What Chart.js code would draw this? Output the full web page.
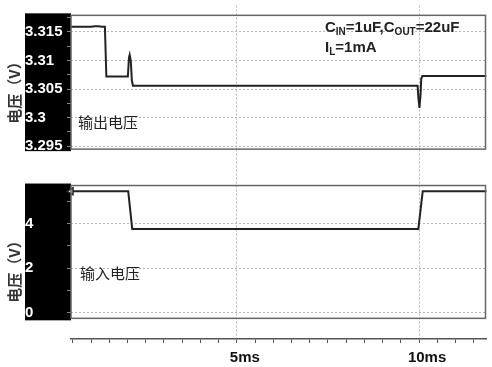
<!DOCTYPE html>
<html>
<head>
<meta charset="utf-8">
<script src="https://cdn.jsdelivr.net/npm/chart.js@4.4.1/dist/chart.umd.min.js"></script>
<style>
  html, body { margin: 0; padding: 0; background: #fff; }
  #wrap { width: 492px; height: 367px; }
</style>
</head>
<body>
<div id="wrap"><canvas id="scope"></canvas></div>
<script>
// output voltage trace (ms, V)
const outTime = [0.45, 1.0, 1.1, 1.2, 1.3, 1.38, 1.42, 2.01, 2.04, 2.06, 2.09, 2.12, 2.15, 9.96, 9.98, 10.01, 10.04, 10.06, 10.09, 11.85];
const outVolt = [3.3159, 3.3159, 3.3160, 3.3160, 3.3159, 3.3159, 3.3072, 3.3072, 3.3105, 3.3110, 3.3100, 3.3065, 3.3056, 3.3056, 3.3035, 3.3017, 3.3040, 3.3068, 3.3073, 3.3073];
// input voltage trace (ms, V)
const inTime = [0.45, 2.02, 2.13, 9.98, 10.10, 11.85];
const inVolt = [5.47, 5.47, 3.77, 3.77, 5.47, 5.47];

const outTicks = [3.315, 3.31, 3.305, 3.3, 3.295];
const inTicks = [4, 2, 0];
const timeTicks = [5, 10];
const timeLabels = ['5ms', '10ms'];

const ink = '#222';
const gridGray = '#b5b5b5';

function pts(xs, ys) { return xs.map((x, i) => ({ x: x, y: ys[i] })); }

function fixWidth(s) {
  s.width = 46;
  s.paddingTop = 0;
  s.paddingBottom = 0;
}

function minorList(from, to, step) {
  const a = [];
  for (let v = from; v <= to + 1e-9; v += step) a.push(+v.toFixed(5));
  return a;
}

const gapAxis = (w) => ({
  type: 'linear', stack: 'scope', stackWeight: w, position: 'left',
  ticks: { display: false }, grid: { display: false }, border: { display: false },
  afterFit: fixWidth
});

const labelFont = { family: 'Liberation Sans, Arial, sans-serif', size: 15, weight: 'bold' };

const panelAxis = (w, min, max, major, minorStep) => ({
  type: 'linear', stack: 'scope', stackWeight: w, position: 'left',
  min: min, max: max,
  afterFit: fixWidth,
  afterBuildTicks: s => {
    s.ticks = minorList(Math.ceil(min / minorStep) * minorStep, max, minorStep).map(v => ({ value: v }));
  },
  ticks: {
    color: '#fff', font: labelFont, crossAlign: 'far', padding: 2,
    autoSkip: false,
    callback: v => major.some(m => Math.abs(m - v) < 1e-6) ? String(+v.toFixed(3)) : ''
  },
  grid: {
    color: c => major.some(m => Math.abs(m - c.tick.value) < 1e-6) ? gridGray : 'rgba(0,0,0,0)',
    tickColor: '#888', tickLength: 4, lineWidth: 1
  },
  border: { display: false, dash: [2, 2] }
});

const panels = {
  id: 'panels',
  beforeDraw(chart) {
    const c = chart.ctx, a = chart.chartArea;
    const t = chart.scales.yOut, b = chart.scales.yIn;
    c.save();
    c.fillStyle = '#000';
    c.fillRect(25, t.top - 2, a.left - 25, t.bottom - t.top + 4);
    c.fillRect(25, b.top - 2, a.left - 25, b.bottom - b.top + 4);
    c.restore();
  },
  afterDraw(chart) {
    const c = chart.ctx, a = chart.chartArea;
    const t = chart.scales.yOut, b = chart.scales.yIn;
    c.save();
    c.strokeStyle = '#666';
    c.lineWidth = 1.5;
    c.setLineDash([]);
    c.strokeRect(a.left, t.top, a.right - a.left - 1, t.bottom - t.top);
    c.strokeRect(a.left, b.top, a.right - a.left - 1, b.bottom - b.top);

    // axis titles
    c.fillStyle = '#333';
    c.font = 'bold 15px "Noto Sans CJK SC", sans-serif';
    c.textAlign = 'center';
    c.textBaseline = 'middle';
    [89, 268].forEach(y => {
      c.save();
      c.translate(14, y);
      c.rotate(-Math.PI / 2);
      c.fillText('电压（V）', 0, 0);
      c.restore();
    });

    // trace names
    c.textAlign = 'left';
    c.fillStyle = '#222';
    c.font = '15px "Noto Sans CJK SC", sans-serif';
    c.fillText('输出电压', 78, 122);
    c.fillText('输入电压', 80, 273);

    // conditions
    const big = 'bold 15px "Liberation Sans", Arial, sans-serif';
    const sub = 'bold 10px "Liberation Sans", Arial, sans-serif';
    c.textBaseline = 'alphabetic';
    let x = 325;
    const seg = (txt, isSub, y) => {
      c.font = isSub ? sub : big;
      c.fillText(txt, x, isSub ? y + 3 : y);
      x += c.measureText(txt).width;
    };
    [['C', 0], ['IN', 1], ['=1uF,C', 0], ['OUT', 1], ['=22uF', 0]].forEach(p => seg(p[0], p[1], 32));
    x = 325;
    [['I', 0], ['L', 1], ['=1mA', 0]].forEach(p => seg(p[0], p[1], 52));
    c.restore();
  }
};

new Chart(document.getElementById('scope'), {
  type: 'line',
  data: {
    datasets: [
      {
        label: '输出电压', data: pts(outTime, outVolt), yAxisID: 'yOut',
        borderColor: ink, borderWidth: 2, pointRadius: 0, tension: 0
      },
      {
        label: '输入电压', data: pts(inTime, inVolt), yAxisID: 'yIn',
        borderColor: ink, borderWidth: 2, tension: 0, clip: false,
        pointRadius: inTime.map((t, i) => i === 0 ? 4 : 0),
        pointStyle: 'triangle', rotation: 270,
        pointBackgroundColor: '#fff', pointBorderColor: ink, pointBorderWidth: 1.5
      }
    ]
  },
  plugins: [panels],
  options: {
    responsive: true,
    maintainAspectRatio: false,
    animation: false,
    layout: { padding: { left: 25, top: 0, right: 1, bottom: 0 } },
    plugins: { legend: { display: false }, tooltip: { enabled: false } },
    scales: {
      x: {
        type: 'linear', min: 0.45, max: 11.85,
        afterFit: s => { s.height = 28; s.paddingLeft = 0; s.paddingRight = 0; },
        afterBuildTicks: s => {
          s.ticks = minorList(0.5, 11.5, 0.5).map(v => ({ value: v }));
        },
        ticks: {
          autoSkip: false, maxRotation: 0, color: '#111', labelOffset: 8, padding: 6,
          font: { family: 'Liberation Sans, Arial, sans-serif', size: 15, weight: 'bold' },
          callback: v => {
            const i = timeTicks.indexOf(+v.toFixed(2));
            return i >= 0 ? timeLabels[i] : '';
          }
        },
        grid: {
          color: c => timeTicks.includes(+c.tick.value.toFixed(2)) ? gridGray : 'rgba(0,0,0,0)',
          tickColor: '#555', tickLength: 4, lineWidth: 1
        },
        border: { display: true, color: '#555', width: 1.5, dash: [2, 2] }
      },
      // stacked bottom-up
      yGapBot: gapAxis(21),
      yIn: panelAxis(135, -0.27, 5.73, inTicks, 1),
      yGapMid: gapAxis(37),
      yOut: panelAxis(136, 3.2945, 3.3179, outTicks, 0.0025),
      yGapTop: gapAxis(10)
    }
  }
});
</script>
</body>
</html>
